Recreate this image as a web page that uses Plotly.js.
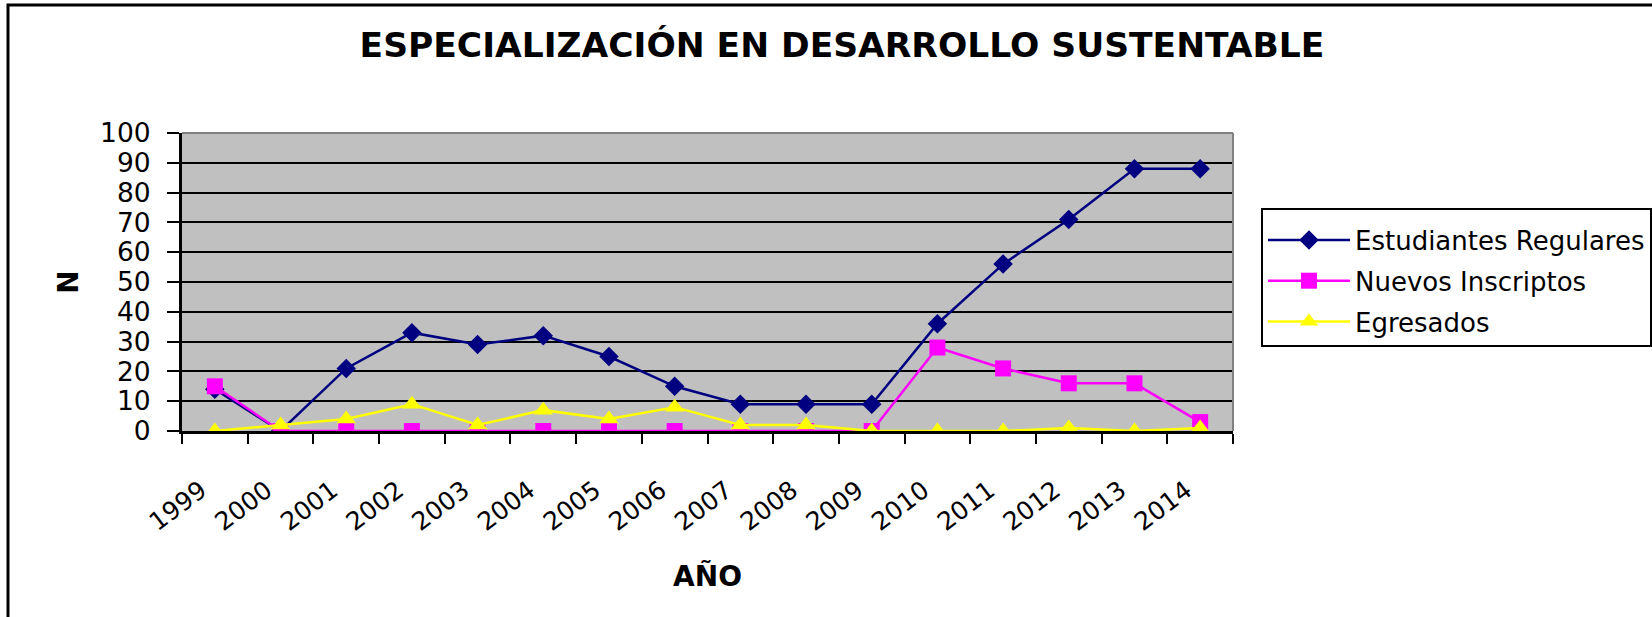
<!DOCTYPE html>
<html>
<head>
<meta charset="utf-8">
<script src="https://cdn.plot.ly/plotly-3.0.1.min.js"></script>
<style>
  html, body { margin: 0; padding: 0; background: #ffffff; }
  #chart { width: 1652px; height: 617px; }
</style>
</head>
<body>
<div id="chart"></div>
<script>
const years = ['1999','2000','2001','2002','2003','2004','2005','2006','2007','2008','2009','2010','2011','2012','2013','2014'];
const regulares = [14, 0, 21, 33, 29, 32, 25, 15, 9, 9, 9, 36, 56, 71, 88, 88];
const nuevos = [15, 0, 0, 0, 0, 0, 0, 0, 0, 0, 0, 28, 21, 16, 16, 3];
const egresados = [0, 2, 4, 9, 2, 7, 4, 8, 2, 2, 0, 0, 0, 1, 0, 1];
const seriesNames = ['Estudiantes Regulares', 'Nuevos Inscriptos', 'Egresados'];
const yTicks = [0, 10, 20, 30, 40, 50, 60, 70, 80, 90, 100];

const FONT = 'DejaVu Sans, Liberation Sans, Arial, sans-serif';

const traces = [
  {
    x: years, y: regulares, name: seriesNames[0], type: 'scatter', mode: 'lines+markers',
    legendgroup: 'g1',
    line: { color: '#000080', width: 2.5 },
    marker: { symbol: 'diamond', size: 15, color: '#000080' }
  },
  {
    x: years, y: nuevos, name: seriesNames[1], type: 'scatter', mode: 'lines+markers',
    legendgroup: 'g2',
    line: { color: '#FF00FF', width: 2.5 },
    marker: { symbol: 'square', size: 16, color: '#FF00FF' }
  },
  {
    x: years, y: egresados, name: seriesNames[2], type: 'scatter', mode: 'lines+markers',
    legendgroup: 'g3',
    line: { color: '#FFFF00', width: 2.5 },
    marker: { symbol: 'triangle-up', size: 17, color: '#FFFF00' }
  }
];

const layout = {
  width: 1652,
  height: 617,
  margin: { l: 182, r: 419, t: 133, b: 186, pad: 0, autoexpand: false },
  paper_bgcolor: '#FFFFFF',
  plot_bgcolor: '#C0C0C0',
  font: { family: FONT, color: '#000000' },
  title: {
    text: 'ESPECIALIZACIÓN EN DESARROLLO SUSTENTABLE',
    font: { family: 'DejaVu Sans, Arial, sans-serif', size: 34.5, color: '#000000', weight: 'bold' },
    x: 842 / 1652, xanchor: 'center', xref: 'container',
    y: 1 - 45 / 617, yanchor: 'middle', yref: 'container'
  },
  xaxis: {
    type: 'category',
    range: [-0.5, years.length - 0.5],
    tickangle: -37,
    tickfont: { family: FONT, size: 25, color: '#000000' },
    showline: true, linecolor: '#000000', linewidth: 3,
    ticks: 'outside', ticklen: 10, tickwidth: 2, tickcolor: '#000000',
    tickson: 'boundaries',
    ticklabelstandoff: 32,
    ticklabelshift: -14,
    showgrid: false, zeroline: false,
    title: { text: 'AÑO', font: { family: FONT, size: 28, weight: 'bold', color: '#000000' }, standoff: 31 }
  },
  yaxis: {
    range: [0, 100],
    tickvals: yTicks,
    ticktext: yTicks.map(String),
    tickfont: { family: FONT, size: 26.5, color: '#000000' },
    showline: true, linecolor: '#000000', linewidth: 3,
    ticks: 'outside', ticklen: 12, tickwidth: 2, tickcolor: '#000000',
    ticklabelstandoff: 11,
    showgrid: true, gridcolor: '#000000', gridwidth: 2,
    zeroline: false,
    title: { text: 'N', font: { family: FONT, size: 28, weight: 'bold', color: '#000000' }, standoff: 14 }
  },
  legend: {
    x: (1261 - 182) / 1051, xanchor: 'left',
    y: (431 - 208) / 298, yanchor: 'top',
    bgcolor: '#FFFFFF', bordercolor: '#000000', borderwidth: 2,
    font: { family: FONT, size: 26, color: '#000000' },
    title: { text: '\u00a0', font: { family: FONT, size: 5 } },
    itemwidth: 82,
    tracegroupgap: 4
  },
  shapes: [
    { type: 'rect', xref: 'paper', yref: 'paper',
      x0: (8 - 182) / 1051, x1: 1.6, y0: -1.2, y1: (431 - 5) / 298,
      line: { color: '#000000', width: 3 }, fillcolor: 'rgba(0,0,0,0)', layer: 'above' },
    { type: 'line', xref: 'paper', yref: 'paper', x0: 0, x1: 1, y0: 1, y1: 1,
      line: { color: '#808080', width: 2 }, layer: 'above' },
    { type: 'line', xref: 'paper', yref: 'paper', x0: 1, x1: 1, y0: 0, y1: 1,
      line: { color: '#808080', width: 2 }, layer: 'above' }
  ],
  showlegend: true
};

Plotly.newPlot('chart', traces, layout, { displayModeBar: false, responsive: false });
</script>
</body>
</html>
